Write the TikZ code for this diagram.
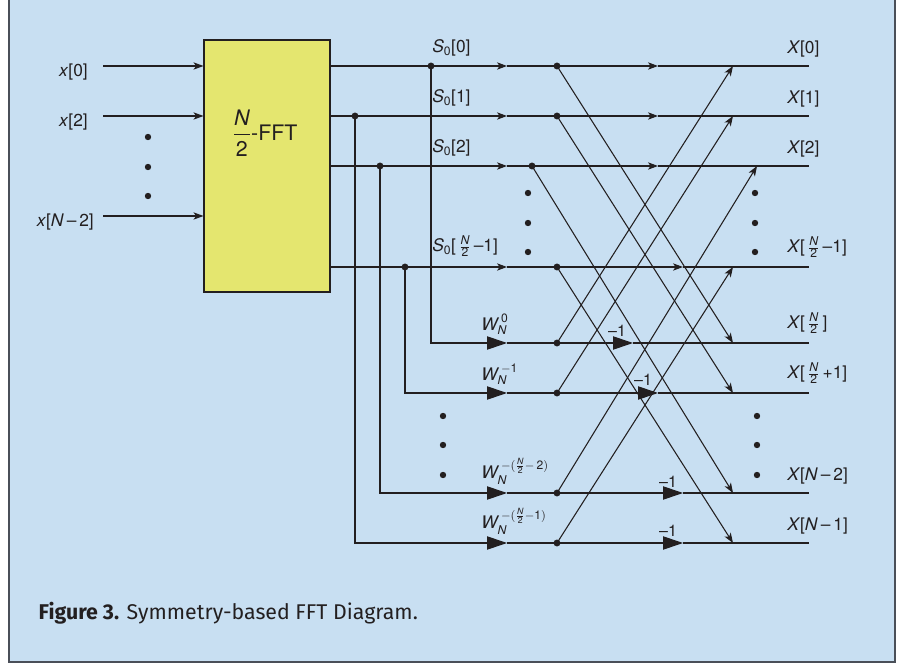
\documentclass[tikz,border=0pt]{standalone}
\usepackage{amsmath}
\usepackage{fontspec}
\setmainfont{TeX Gyre Heros}
\newfontfamily\capfont{Fira Sans}
\usetikzlibrary{arrows.meta}
\definecolor{panel}{HTML}{C8DFF2}
\definecolor{boxyellow}{HTML}{E4E66F}
\definecolor{ink}{HTML}{231F20}
\definecolor{rim}{HTML}{4A4F58}
\newcommand{\mvar}[1]{\text{\itshape #1}}
\newcommand{\hN}{\tfrac{\mvar{N}}{\text{2}}}
\tikzset{
  sig/.style={ink,line width=0.8pt},
  sarr/.style={sig,-{Stealth[length=7.5pt,width=5.5pt,inset=2pt]}},
  barr/.style={sig,-{Triangle[length=15pt,width=10pt]}},
  lbl/.style={inner sep=0pt,text=ink,font=\fontsize{13}{15}\selectfont},
  wlbl/.style={lbl,anchor=south west},
  mlbl/.style={lbl,font=\fontsize{12}{14}\selectfont},
  fftbox/.style={draw=ink,line width=0.8pt,fill=boxyellow,inner sep=0pt,
                 minimum width=94.5pt,minimum height=189pt},
}

\begin{document}
\begin{tikzpicture}[x=0.75pt,y=-0.75pt]
  \useasboundingbox (0,0) rectangle (897,666);
  \fill[panel] (9,0) rectangle (895,662);
  \draw[rim,line width=1.5pt] (9,0) -- (9,662) -- (895,662) -- (895,0);

  % half-length FFT block with its inputs
  \node[fftbox] (fft) at (267,166) {};
  \node[lbl,font=\fontsize{16}{18}\selectfont] (fftl) at (265,133) {$\dfrac{\mvar{N}}{\text{2}}$-FFT};
  \node[lbl,anchor=east] (x0) at (88,72) {\textit{x}[0]};
  \node[lbl,anchor=east] (x2) at (88,122) {\textit{x}[2]};
  \node[lbl,anchor=east] (xn) at (94,222) {\textit{x}[\textit{N}\,\textendash\,2]};
  \coordinate (i0) at (103,66); \coordinate (i1) at (103,116); \coordinate (i2) at (103,216);
  \foreach \k in {0,1,2} \draw[sarr] (i\k) -- (fft.west |- i\k);
  \foreach \y in {137,167,196} \fill[ink] (148,\y) circle (2.4pt);

  % row points
  \foreach \r/\y in {0/66,1/116,2/166,3/267,4/343,5/393,6/493,7/543} {
    \coordinate (b\r) at (557,\y); \coordinate (t\r) at (733,\y); \coordinate (e\r) at (809,\y);
  }
  \coordinate (b2) at (532,166); \coordinate (t2) at (757,166);
  \foreach \r/\y/\jx/\nx in {0/66/431/658,1/116/355/658,2/166/380/658,3/267/405/683} {
    \coordinate (o\r) at (fft.east |- 0,\y); \coordinate (j\r) at (\jx,\y);
    \coordinate (m\r) at (507,\y); \coordinate (n\r) at (\nx,\y);
  }
  \foreach \r/\y/\qx in {4/343/633,5/393/658,6/493/683,7/543/683} {
    \coordinate (k\r) at (507,\y); \coordinate (q\r) at (\qx,\y);
  }

  % upper half: S_0 outputs
  \foreach \r in {0,...,3} {
    \draw[sarr] (o\r) -- (m\r); \draw[sarr] (m\r) -- (n\r); \draw[sig] (n\r) -- (e\r);
  }
  % lower half: twiddle factors and -1
  \foreach \r/\j in {4/0,5/3,6/2,7/1} {
    \draw[barr] (j\j) |- (k\r); \draw[barr] (k\r) -- (q\r); \draw[sig] (q\r) -- (e\r);
  }
  % butterflies
  \foreach \a/\z in {0/4,1/5,2/6,3/7,4/0,5/1,6/2,7/3} \draw[sarr] (b\a) -- (t\z);
  \foreach \p in {j0,j1,j2,j3,b0,b1,b2,b3,b4,b5,b6,b7} \fill[ink] (\p) circle (2.6pt);
  \foreach \y in {193,223,252} {\fill[ink] (528,\y) circle (2.4pt); \fill[ink] (755,\y) circle (2.4pt);}
  \foreach \y in {416,445,475} {\fill[ink] (443,\y) circle (2.4pt); \fill[ink] (757,\y) circle (2.4pt);}

  % labels
  \node[wlbl] (s0) at (432,56) {\textit{S}\textsubscript{0}[0]};
  \node[wlbl] (s1) at (432,106) {\textit{S}\textsubscript{0}[1]};
  \node[wlbl] (s2) at (432,156) {\textit{S}\textsubscript{0}[2]};
  \node[wlbl] (s3) at (432,257) {\textit{S}\textsubscript{0}[\,$\hN$\,\textendash1]};
  \node[wlbl] (w4) at (481,335) {$\mvar{W}_{\mvar{N}}^{\;\text{0}}$};
  \node[wlbl] (w5) at (481,385) {$\mvar{W}_{\mvar{N}}^{\;-\text{1}}$};
  \node[wlbl] (w6) at (481,485) {$\mvar{W}_{\mvar{N}}^{\;-(\frac{\mvar{N}}{\text{2}}-\,\text{2})}$};
  \node[wlbl] (w7) at (481,535) {$\mvar{W}_{\mvar{N}}^{\;-(\frac{\mvar{N}}{\text{2}}-\text{1})}$};
  \node[mlbl] (m4) at (617,331) {\textendash1};
  \node[mlbl] (m5) at (643,380) {\textendash1};
  \node[mlbl] (m6) at (668,482) {\textendash1};
  \node[mlbl] (m7) at (668,531) {\textendash1};
  \node[wlbl] (y0) at (787,57) {\textit{X}[0]};
  \node[wlbl] (y1) at (787,107) {\textit{X}[1]};
  \node[wlbl] (y2) at (787,157) {\textit{X}[2]};
  \node[wlbl] (y3) at (787,258) {\textit{X}[\,$\hN$\,\textendash1]};
  \node[wlbl] (y4) at (787,334) {\textit{X}[\,$\hN$\,]};
  \node[wlbl] (y5) at (787,384) {\textit{X}[\,$\hN$\,+1]};
  \node[wlbl] (y6) at (787,484) {\textit{X}[\textit{N}\,\textendash\,2]};
  \node[wlbl] (y7) at (787,534) {\textit{X}[\textit{N}\,\textendash\,1]};

  \node[anchor=base west,text=ink,font=\capfont\fontsize{16}{18}\selectfont] (cap) at (34,619)
    {\textbf{Figure 3.} Symmetry-based FFT Diagram.};
\end{tikzpicture}
\end{document}
